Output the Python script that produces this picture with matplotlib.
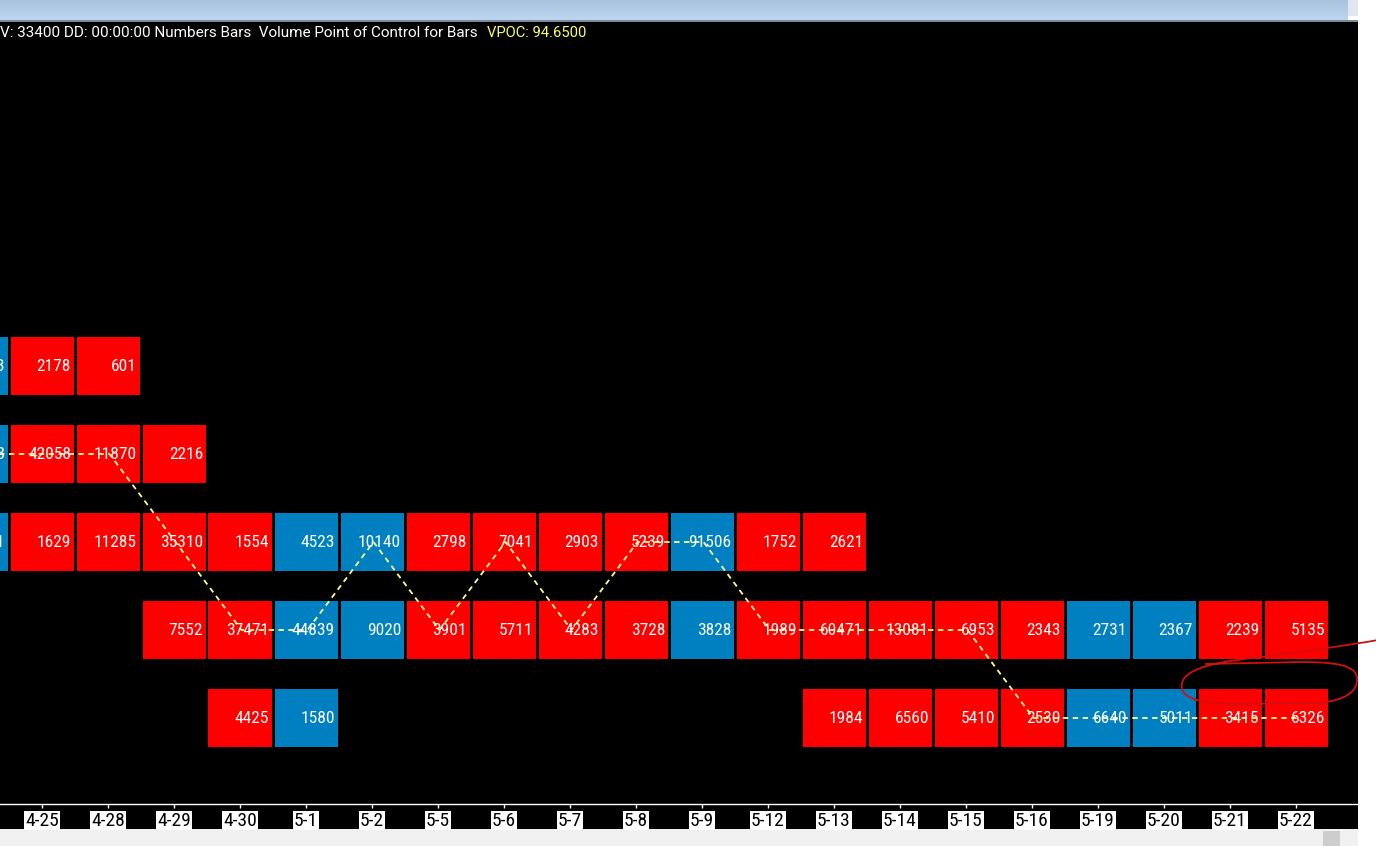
import numpy as np
import matplotlib
matplotlib.use('Agg')
import matplotlib.pyplot as plt
from matplotlib import font_manager
from matplotlib.patches import Rectangle, PathPatch
from matplotlib.path import Path
from matplotlib.transforms import Affine2D

# ---------------- data ----------------
dates = ['4-24', '4-25', '4-28', '4-29', '4-30', '5-1', '5-2', '5-5', '5-6', '5-7',
         '5-8', '5-9', '5-12', '5-13', '5-14', '5-15', '5-16', '5-19', '5-20',
         '5-21', '5-22']
bar_dirs = ['up', 'down', 'down', 'down', 'down', 'up', 'up', 'down', 'down', 'down',
            'down', 'up', 'down', 'down', 'down', 'down', 'down', 'up', 'up',
            'down', 'down']
price_levels = [94.85, 94.80, 94.75, 94.70, 94.65]
vol_9485 = [1853, 2178, 601] + [None] * 18
vol_9480 = [23563, 42058, 11870, 2216] + [None] * 17
vol_9475 = [2451, 1629, 11285, 35310, 1554, 4523, 10140, 2798, 7041, 2903, 5239,
            91506, 1752, 2621] + [None] * 7
vol_9470 = [None, None, None, 7552, 37471, 44839, 9020, 3901, 5711, 4283, 3728,
            3828, 1989, 60471, 13081, 6953, 2343, 2731, 2367, 2239, 5135]
vol_9465 = [None] * 4 + [4425, 1580] + [None] * 7 + [1984, 6560, 5410, 2530, 6640,
                                                    5011, 3415, 6326]
volumes = [vol_9485, vol_9480, vol_9475, vol_9470, vol_9465]
header_white = 'V: 33400 DD: 00:00:00 Numbers Bars  Volume Point of Control for Bars'
header_yellow = 'VPOC: 94.6500'

# ---------------- style ----------------
W, H = 1376, 846
RED = '#ff0000'
BLUE = '#0080c0'
VPOC_COLOR = '#ffff88'
installed = {f.name for f in font_manager.fontManager.ttflist}
def pick(*names):
    for nm in names:
        if nm in installed:
            return nm
    return 'DejaVu Sans'
NARROW = pick('Liberation Sans Narrow', 'Roboto Condensed', 'Roboto', 'Liberation Sans')
HEAD = pick('Roboto', 'Liberation Sans', 'Noto Sans')

fig = plt.figure(figsize=(W / 100, H / 100), dpi=100, facecolor='white')
px = Affine2D().scale(1 / W, -1 / H).translate(0, 1) + fig.transFigure

def rect(x0, y0, x1, y1, color, z=-10):
    fig.patches.append(Rectangle((x0, y0), x1 - x0, y1 - y0, transform=px,
                                 facecolor=color, edgecolor='none', zorder=z))

# window chrome
n = 20
top_c = np.array([0.66, 0.76, 0.87])
bot_c = np.array([0.74, 0.83, 0.93])
for i in range(n):
    c = top_c + (bot_c - top_c) * i / (n - 1)
    rect(0, i, 1348, i + 1.05, tuple(c))
rect(0, 20, 1358, 22, '#7a8a9c')
rect(1348, 0, 1358, 16, '#dfe6ee')
rect(0, 22, 1358, 829, 'black')
rect(0, 829, 1358, 846, '#f0f0f0')
rect(1323, 831, 1340, 846, '#cdcdcd', z=-9)

# ---------------- main axes ----------------
ax_left, ax_right = 0, 1358
ax_top, ax_bot = 22, 804
ax = fig.add_axes([ax_left / W, (H - ax_bot) / H, (ax_right - ax_left) / W,
                   (ax_bot - ax_top) / H])
ax.set_facecolor('black')

x = np.arange(len(dates)) - 1
col_px = 66.0
row_px = 88.0
step = 0.05
cell_w = 63 / col_px
cell_h = 58 / row_px * step

colors = [BLUE if d == 'up' else RED for d in bar_dirs]
for price, vols in zip(price_levels, volumes):
    idx = [i for i, v in enumerate(vols) if v is not None]
    ax.bar(x[idx], cell_h, bottom=price - cell_h / 2, width=cell_w,
           color=[colors[i] for i in idx], linewidth=0, zorder=2)
    for i in idx:
        ax.text(x[i] + cell_w / 2 - 2.5 / col_px, price, str(vols[i]), color='white',
                ha='right', va='center', fontsize=12.5, family=NARROW, zorder=4)

# VPOC line: level with the maximum volume in each column
vp_x, vp_y = [], []
for i in range(len(dates)):
    best = None
    for price, vols in zip(price_levels, volumes):
        if vols[i] is not None and (best is None or vols[i] > best[1]):
            best = (price, vols[i])
    vp_x.append(x[i] + 1.5 / col_px)
    vp_y.append(best[0])
ax.plot(vp_x, vp_y, color=VPOC_COLOR, lw=1.3, ls=(0, (3, 2.5)), zorder=3)

# axis / ticks
for s in ['left', 'right', 'top']:
    ax.spines[s].set_visible(False)
ax.spines['bottom'].set_color('white')
ax.spines['bottom'].set_linewidth(1.0)
ax.set_yticks([])
ax.set_xticks(x)
ax.set_xticklabels(dates, family=NARROW, fontsize=14, color='black')
ax.tick_params(axis='x', colors='white', length=3, width=1, pad=2.5, labelcolor='black')
for t in ax.get_xticklabels():
    t.set_bbox(dict(facecolor='white', edgecolor='none', pad=0.6))

# view limits (set after ticks so the hidden 4-24 tick does not widen them)
ax.set_xlim((0 - 42) / col_px, (1358 - 42) / col_px)
low = price_levels[-1]
ax.set_ylim(low - (804 - 718) / row_px * step, low + (718 - 22) / row_px * step)

# header
fig.canvas.draw()
r = fig.canvas.get_renderer()
t1 = fig.text(0, 1 - 33 / H, header_white, color='white', family=HEAD, fontsize=10,
              va='center', ha='left')
w1 = t1.get_window_extent(r).width
t1.set_fontsize(10 * 478 / w1)
t2 = fig.text(487 / W, 1 - 33 / H, header_yellow, color='#ffff66', family=HEAD,
              fontsize=10, va='center', ha='left')
w2 = t2.get_window_extent(r).width
t2.set_fontsize(10 * 99 / w2)

# hand-drawn red ellipse annotation
verts = [(1378, 640),
         (1350, 645), (1300, 652), (1262, 657),
         (1222, 661), (1186, 667), (1182, 683),
         (1179, 697), (1196, 703), (1232, 704),
         (1320, 703),
         (1345, 700), (1358, 692), (1357, 678),
         (1356, 665), (1335, 662), (1300, 662),
         (1205, 664)]
codes = [Path.MOVETO] + [Path.CURVE4] * 9 + [Path.LINETO] + [Path.CURVE4] * 6 + [Path.LINETO]
fig.patches.append(PathPatch(Path(verts, codes), transform=px, facecolor='none',
                             edgecolor='#d01010', lw=1.3, zorder=10))

fig.savefig('out.png', dpi=100, facecolor=fig.get_facecolor())
